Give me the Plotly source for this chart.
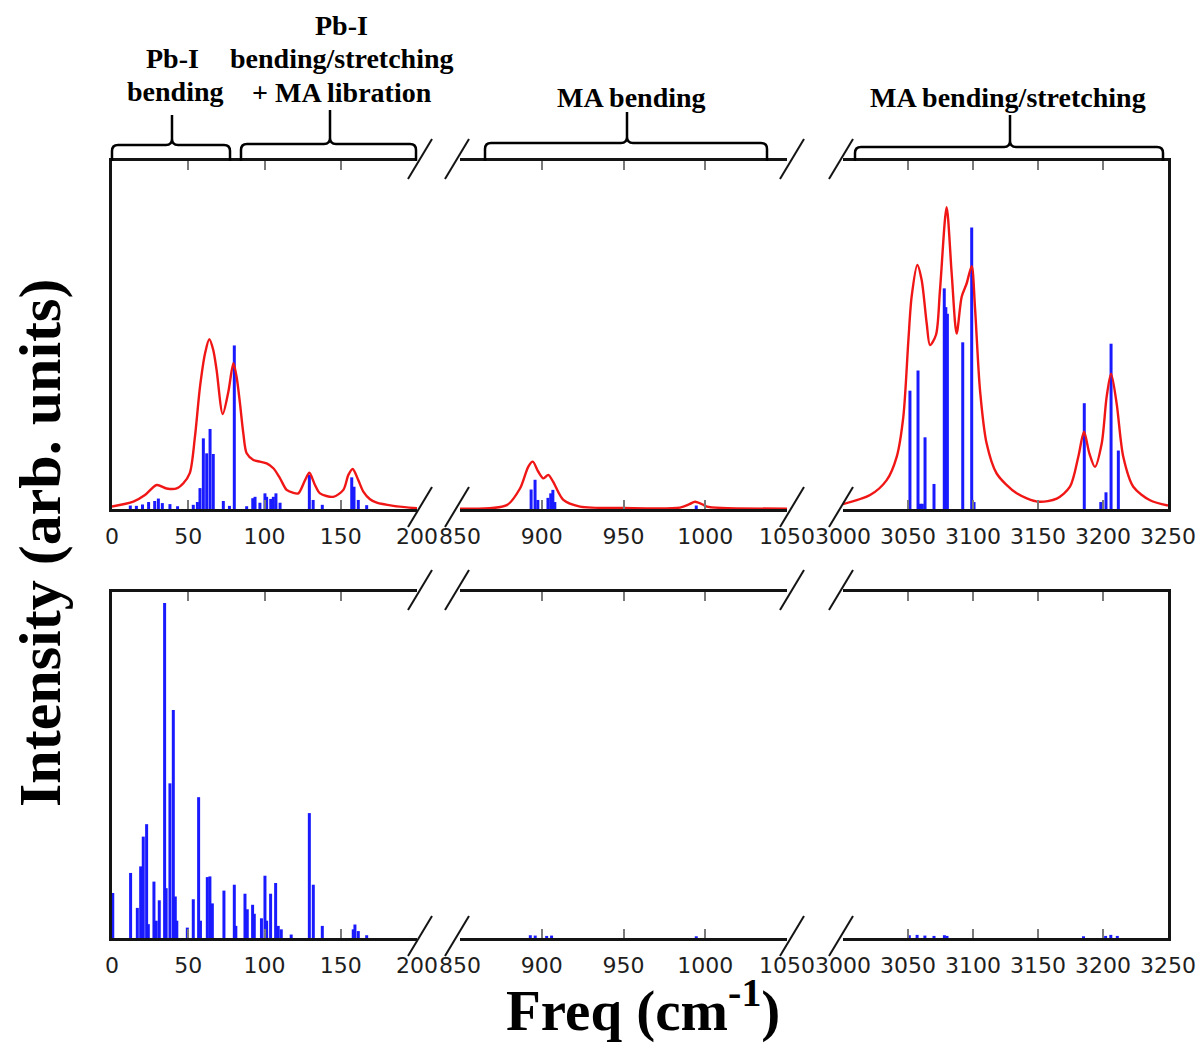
import plotly.graph_objects as go

# ---------------- data ----------------
# broken frequency axis: three windows (cm^-1)
segment_ranges = [[0, 200], [850, 1050], [3000, 3250]]
segment_ticks = [
    [0, 50, 100, 150, 200],
    [850, 900, 950, 1000, 1050],
    [3000, 3050, 3100, 3150, 3200, 3250],
]

# upper panel: broadened spectrum (red)
spectrum_freq = [
    0, 14, 21.6, 29.3, 35.8, 42.4, 46.8, 51, 54.4, 57.7, 61, 63.8, 66.4, 68.6,
    72.6, 76.3, 79.6, 81.7, 83.9, 86.1, 88.3, 92.7, 97, 101.4, 105.8, 110.2,
    114.5, 118.5, 122.2, 126.6, 129.4, 133.1, 136.4, 145.1, 151.7, 155, 157.8,
    161.5, 164.8, 169.2, 173.6, 184.5, 200,
    850, 878.6, 886.7, 891.8, 894.5, 897.9, 901, 904, 907, 913.2, 923.4, 950,
    984.5, 990.4, 993.7, 998.8, 1000.9, 1010, 1050,
    3000, 3020.8, 3033.6, 3041.3, 3046.4, 3050.3, 3052.8, 3057.2, 3060.5,
    3064.4, 3066.9, 3071.5, 3074.6, 3079.7, 3083.6, 3087.4, 3091.3, 3095.1,
    3099, 3101.5, 3105.4, 3110.5, 3118.2, 3133.6, 3150.3, 3164.4, 3174.6,
    3181, 3185.4, 3189.5, 3193.8, 3199, 3202.8, 3206.2, 3210.5, 3215.6,
    3223.3, 3236.2, 3250,
]
spectrum_intensity = [
    0.7, 2.1, 4.0, 6.9, 5.9, 5.9, 7.4, 10.3, 20.8, 35.1, 44.7, 48.8, 45.7, 39.9,
    27.3, 33.7, 41.9, 38.0, 30.4, 21.8, 16.0, 14.1, 13.6, 13.1, 11.7, 8.8,
    5.5, 4.7, 4.5, 8.3, 10.4, 6.9, 4.5, 3.5, 5.5, 9.8, 11.5,
    8.3, 5.0, 2.8, 1.8, 0.9, 0.2,
    0.1, 1.1, 5.9, 12.2, 13.6, 10.7, 8.8, 9.8, 7.8, 2.6, 0.7, 0.3,
    0.4, 1.4, 2.1, 1.2, 0.7, 0.3, 0.1,
    1.4, 4.0, 8.3, 15.0, 26.5, 48.5, 61.0, 70.1, 65.8,
    53.3, 47.1, 50.0, 62.9, 86.7, 67.7, 50.4, 61.0, 64.8,
    69.8, 58.1, 34.1, 18.8, 10.2, 4.5, 2.1, 3.0, 6.4,
    15.0, 22.2, 16.0, 12.1, 18.8, 32.2, 38.9, 30.3, 15.0,
    6.4, 2.5, 1.0,
]

# upper panel: mode intensities (blue sticks)
upper_mode_freq = [
    12, 16, 20, 24, 28, 30.4, 33, 38, 43, 53.3, 56, 57.7, 59.9, 62.1, 64.3,
    66.4, 73, 77, 80.2, 88.3, 92.3, 93.8, 97, 100.3, 101.4, 104.1, 105.8,
    107.5, 110.2, 129.4, 131.9, 137.9, 157.2, 158.7, 161.5, 167,
    893.5, 895.9, 897.6, 903.8, 905.5, 906.8, 908, 994.5,
    3051.5, 3057.7, 3059.5, 3061, 3063.1, 3070, 3077.9, 3079.1, 3080.3,
    3092.1, 3099, 3100.8, 3185.6, 3198.3, 3202.3, 3206.2, 3211.8,
]
upper_mode_intensity = [
    1.0, 0.9, 1.3, 2.0, 2.3, 3.0, 1.7, 1.4, 0.8, 1.2, 2.0, 6.0, 20.3, 16.0, 23.0,
    15.8, 2.3, 0.9, 47.0, 0.8, 3.1, 3.5, 1.8, 4.5, 3.5, 2.9, 3.5,
    4.5, 1.8, 9.8, 2.6, 1.2, 9.1, 6.4, 2.6, 1.1,
    5.6, 8.4, 2.6, 3.2, 4.5, 5.5, 2.0, 1.0,
    34.0, 39.8, 1.5, 1.5, 20.6, 7.2, 63.4, 58.0, 56.1,
    47.9, 80.9, 2.0, 30.4, 2.0, 4.8, 47.5, 16.8,
]

# lower panel: mode intensities (blue sticks)
lower_mode_freq = [
    0.5, 12.2, 16.6, 18.8, 20.5, 22.7, 23.8, 27.5, 29, 31, 34.5, 35.5, 38,
    40.2, 41.5, 42.5, 49.4, 53.3, 56.8, 58, 62.5, 64.2, 65.8, 73.4, 80.2,
    81.2, 87.2, 88.7, 92.2, 93.3, 98, 100.3, 101.4, 104, 107.3, 109, 111,
    117.5, 129.4, 132, 137.9, 158.2, 159.3, 161.5, 167,
    893, 896, 903, 906, 994.5,
    3051, 3057, 3063, 3070, 3078, 3080, 3185, 3202, 3206, 3211,
]
lower_mode_intensity = [
    13.0, 18.8, 8.7, 20.7, 29.3, 32.9, 4.0, 16.3, 5.0, 10.9, 96.8, 14.4, 44.7,
    65.9, 12.0, 5.0, 3.0, 11.2, 40.7, 5.0, 17.6, 17.8, 10.0, 13.7, 15.4,
    3.5, 12.8, 8.3, 9.6, 7.0, 5.7, 18.0, 5.0, 12.8, 15.9, 3.5, 2.5,
    1.0, 36.1, 15.4, 3.5, 2.5, 3.9, 2.0, 0.8,
    0.8, 0.7, 0.6, 0.7, 0.5,
    0.8, 0.9, 0.7, 0.6, 0.8, 0.6, 0.5, 0.6, 0.9, 0.6,
]

# ---------------- layout geometry (pixels) ----------------
W, H = 1200, 1045
seg_px = [(112, 417), (460, 787), (843, 1168)]     # left/right edge of each window
panel_px = [(161, 509), (592, 938)]                # top/bottom edge of each panel


def fx(x):
    return x / W


def fy(y):
    return 1 - y / H


AXIS = "#141414"
TICK = "#7a7a7a"
RED = "#f01616"
BLUE = "#1a1aff"
SERIF = "Liberation Serif, Times New Roman, serif"
SANS = "DejaVu Sans, sans-serif"


def in_window(xs, ys, lo, hi):
    return [(x, y) for x, y in zip(xs, ys) if lo <= x <= hi]


def stick_xy(pairs):
    xs, ys = [], []
    for x, y in pairs:
        xs += [x, x, None]
        ys += [0, y, None]
    return xs, ys


fig = go.Figure()
layout = dict(
    width=W, height=H, autosize=False,
    margin=dict(l=0, r=0, t=0, b=0, pad=0, autoexpand=False),
    plot_bgcolor="white", paper_bgcolor="white", showlegend=False,
)

for p, (ptop, pbot) in enumerate(panel_px):
    for s, (sl, sr) in enumerate(seg_px):
        i = p * 3 + s + 1
        suffix = "" if i == 1 else str(i)
        lo, hi = segment_ranges[s]
        layout["xaxis" + suffix] = dict(
            domain=[fx(sl), fx(sr)], range=[lo, hi], anchor="y" + suffix,
            automargin=False,
            showline=True, linecolor=AXIS, linewidth=2.5, mirror="ticks",
            ticks="inside", ticklen=9, tickwidth=2, tickcolor=TICK,
            tickvals=segment_ticks[s], ticktext=[str(t) for t in segment_ticks[s]],
            tickfont=dict(family=SANS, size=22, color="#1e1e1e"),
            ticklabelstandoff=6,
            showgrid=False, zeroline=False, fixedrange=True,
        )
        layout["yaxis" + suffix] = dict(
            domain=[fy(pbot), fy(ptop)], range=[0, 100], anchor="x" + suffix,
            automargin=False,
            showticklabels=False, ticks="", showgrid=False, zeroline=False,
            showline=(s != 1), side=("right" if s == 2 else "left"),
            linecolor=AXIS, linewidth=2.5, fixedrange=True,
        )

        xref, yref = "x" + ("" if i == 1 else str(i)), "y" + ("" if i == 1 else str(i))
        sticks = upper_mode_freq if p == 0 else lower_mode_freq
        heights = upper_mode_intensity if p == 0 else lower_mode_intensity
        sx, sy = stick_xy(in_window(sticks, heights, lo, hi))
        fig.add_trace(go.Scatter(
            x=sx, y=sy, mode="lines", line=dict(color=BLUE, width=3),
            xaxis=xref, yaxis=yref, hoverinfo="skip",
        ))
        if p == 0:
            pts = in_window(spectrum_freq, spectrum_intensity, lo, hi)
            fig.add_trace(go.Scatter(
                x=[a for a, _ in pts], y=[b for _, b in pts], mode="lines",
                line=dict(color=RED, width=2.4, shape="spline", smoothing=0.8),
                xaxis=xref, yaxis=yref, hoverinfo="skip",
            ))

# break marks on the frame
shapes = []
break_x = [(seg_px[0][1], 3), (seg_px[1][0], -3), (seg_px[1][1], 5), (seg_px[2][0], -2)]
for ptop, pbot in panel_px:
    for yline in (ptop, pbot):
        for bx, off in break_x:
            cx, cy = bx + off, yline - 2
            shapes.append(dict(
                type="line", xref="paper", yref="paper",
                x0=fx(cx - 12), y0=fy(cy + 20), x1=fx(cx + 12), y1=fy(cy - 20),
                line=dict(color=AXIS, width=2),
            ))

# curly brackets over the mode groups
brackets = [
    (112, 230, 172, 145, 115),
    (241, 416, 330, 144, 110),
    (485, 767, 627, 143, 112),
    (855, 1163, 1010, 147, 115),
]
r = 6
ybase = panel_px[0][0]
for x0, x1, xm, yh, ytop in brackets:
    def P(x, y):
        return f"{fx(x):.5f},{fy(y):.5f}"
    path = (
        f"M {P(x0, ybase)} L {P(x0, yh + r)} Q {P(x0, yh)} {P(x0 + r, yh)} "
        f"L {P(xm - r, yh)} Q {P(xm, yh)} {P(xm, yh - r)} L {P(xm, ytop)} "
        f"M {P(xm, yh - r)} Q {P(xm, yh)} {P(xm + r, yh)} "
        f"L {P(x1 - r, yh)} Q {P(x1, yh)} {P(x1, yh + r)} L {P(x1, ybase)}"
    )
    shapes.append(dict(type="path", xref="paper", yref="paper", path=path,
                       line=dict(color="black", width=2.5)))
layout["shapes"] = shapes

# group labels and axis titles
labels = [
    ("Pb-I", 172, 58), ("bending", 175, 92),
    ("Pb-I", 342, 25), ("bending/stretching", 342, 59), ("+ MA libration", 342, 93),
    ("MA bending", 632, 98), ("MA bending/stretching", 1008, 97),
]
annotations = []
for text, x, y in labels:
    annotations.append(dict(
        text=f"<b>{text}</b>", x=fx(x), y=fy(y), xref="paper", yref="paper",
        xanchor="center", yanchor="middle", showarrow=False,
        font=dict(family=SERIF, size=28, color="black"),
    ))
annotations.append(dict(
    text="<b>Intensity (arb. units)</b>", x=fx(40), y=fy(543), xref="paper", yref="paper",
    xanchor="center", yanchor="middle", showarrow=False, textangle=-90,
    font=dict(family=SERIF, size=60, color="black"),
))
annotations.append(dict(
    text="<b>Freq (cm<sup>-1</sup>)</b>", x=fx(643), y=fy(1006), xref="paper", yref="paper",
    xanchor="center", yanchor="middle", showarrow=False,
    font=dict(family=SERIF, size=57, color="black"),
))
layout["annotations"] = annotations

fig.update_layout(**layout)
fig.write_html("out.html")
